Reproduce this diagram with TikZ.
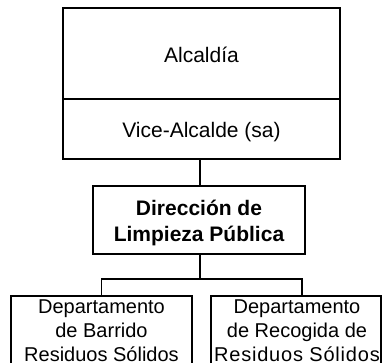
\documentclass[tikz,border=0pt]{standalone}
\usepackage{fontspec}
\setmainfont{Liberation Sans}
\begin{document}
\begin{tikzpicture}[x=1pt,y=-1pt,
  box/.style={draw=black,line width=1.6pt,rectangle,inner sep=0pt},
  txt/.style={inner sep=0pt,align=center,anchor=base},
  conn/.style={draw=black,line width=1.6pt},
  big/.style={font=\fontsize{21}{25.5}\selectfont},
  bigb/.style={font=\fontsize{21}{25.5}\selectfont\bfseries},
  small/.style={font=\fontsize{20}{24}\selectfont}]
\useasboundingbox (0,0) rectangle (382,362);
\clip (0,0) rectangle (382,362);
% boxes
\node[box,minimum width=277pt,minimum height=91pt] (alc) at (201.5,53.5) {};
\node[box,minimum width=277pt,minimum height=60pt] (vice) at (201.5,129) {};
\node[box,minimum width=212pt,minimum height=68pt] (dir) at (199,220) {};
\node[box,minimum width=181pt,minimum height=76pt] (barr) at (101.5,334) {};
\node[box,minimum width=170pt,minimum height=76pt] (reco) at (296,334) {};
% texts (base anchor = baseline of last line)
\node[txt,big] (alct) at (201.5,62) {Alcaldía};
\node[txt,big] (vicet) at (201.5,137) {Vice-Alcalde (sa)};
\node[txt,bigb] (dirt) at (199,241) {Dirección de\\Limpieza Pública};
\node[txt,small] (barrt) at (101.5,361) {Departamento\\de Barrido\\Residuos Sólidos};
\node[txt,small] (recot) at (297,361) {Departamento\\de Recogida de\\{\addfontfeature{LetterSpace=4}Residuos Sólidos}};
% connectors
\draw[conn] (vice.south -| 200,0) -- (dir.north -| 200,0);
\coordinate (j) at (200,279);
\draw[conn] (dir.south -| 200,0) -- (j);
\draw[conn] (j) -| (barr.north);
\draw[conn] (j) -| ([xshift=6pt]reco.north);
\end{tikzpicture}
\end{document}
